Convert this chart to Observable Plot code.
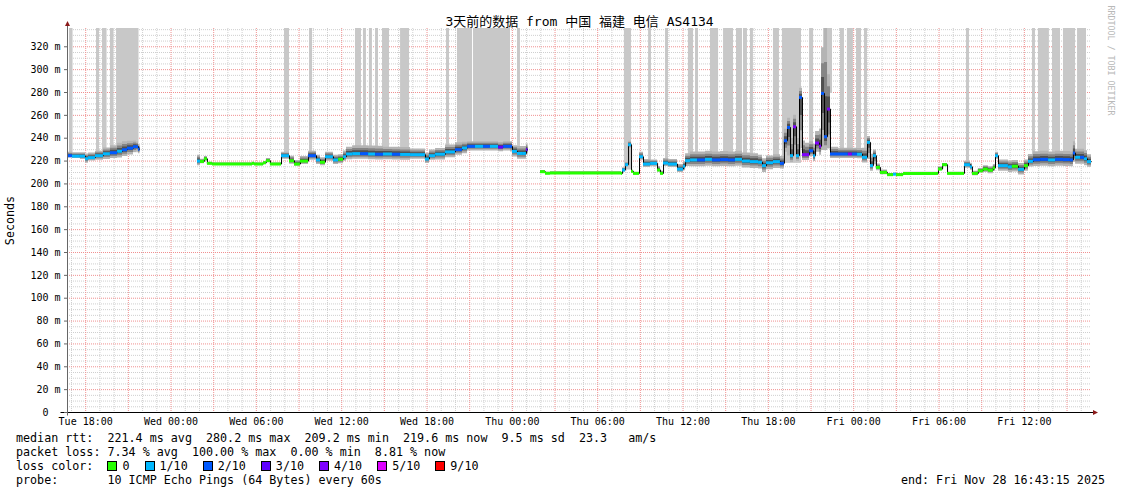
<!DOCTYPE html>
<html><head><meta charset="utf-8">
<script src="https://cdn.jsdelivr.net/npm/d3@7"></script>
<script src="https://cdn.jsdelivr.net/npm/@observablehq/plot@0.6"></script>
<style>
body{margin:0;background:#fff;width:1121px;height:494px;overflow:hidden;position:relative;font-family:'DejaVu Sans Mono',monospace;}
#chart{position:absolute;left:0;top:0;}
.leg{position:absolute;font-size:11.7px;line-height:14px;white-space:pre;color:#000;}
.box{display:inline-block;width:8px;height:8px;border:1px solid #000;vertical-align:-1px;margin-right:5px;}
.item{margin-right:15px;}
</style></head><body>
<div id="chart"></div>
<div class="leg" style="left:16px;top:431px">median rtt:  221.4 ms avg  280.2 ms max  209.2 ms min  219.6 ms now  9.5 ms sd  23.3   am/s</div>
<div class="leg" style="left:16px;top:445px">packet loss: 7.34 % avg  100.00 % max  0.00 % min  8.81 % now</div>
<div class="leg" id="losslegend" style="left:16px;top:459px">loss color:  </div>
<div class="leg" style="left:16px;top:473px">probe:       10 ICMP Echo Pings (64 Bytes) every 60s</div>
<div class="leg" style="right:16px;top:473px">end: Fri Nov 28 16:43:15 2025</div>
<script>
const titleText = "3天前的数据 from 中国 福建 电信 AS4134";
const yLabel = "Seconds";
const watermark = "RRDTOOL / TOBI OETIKER";

// loss legend
const lossLevels = [0, 1, 2, 3, 4, 5, 9];
const lossLabels = ["0", "1/10", "2/10", "3/10", "4/10", "5/10", "9/10"];
const lossColors = ["#26ff00", "#00b8ff", "#0059ff", "#5e00ff", "#7e00ff", "#dd00ff", "#ff0000"];

// time window
const startTime = Date.UTC(2025, 10, 25, 16, 43, 15);
const endTime = Date.UTC(2025, 10, 28, 16, 43, 15);
const baseTime = Date.UTC(2025, 10, 25, 18, 0, 0); // hours below are offsets from Tue 18:00

// median rtt series (hours since Tue 18:00, ms, loss tenths, smoke below/above ms)
const hours = [
 -1.28,-0.93,-0.37,-0.01,0.20,0.69,1.25,1.74,2.24,2.59,2.94,3.36,3.57,3.71,3.82,5.00,
 7.86,8.07,8.35,8.56,8.92,11.59,11.73,11.87,12.50,12.71,12.99,13.77,14.33,14.68,15.10,15.67,16.23,16.51,16.86,17.42,17.78,18.13,18.34,18.77,19.33,19.89,20.38,20.94,21.57,22.14,22.84,23.40,23.89,24.17,24.60,25.30,26.00,26.49,26.85,27.41,27.97,28.46,29.03,29.38,29.87,30.01,30.36,30.78,30.99,31.10,31.50,
 31.98,32.33,32.68,37.68,37.75,37.96,38.17,38.38,38.52,38.94,39.22,39.72,40.21,40.42,40.63,40.98,41.61,42.03,42.18,42.53,43.02,43.58,44.07,44.64,45.20,45.69,46.18,46.74,47.31,47.59,47.87,48.36,48.85,49.06,49.13,49.35,49.56,49.77,49.98,50.19,50.40,50.61,50.90,51.18,51.32,51.60,51.74,51.95,52.16,52.37,52.93,53.63,53.91,54.27,54.62,54.97,55.18,55.39,55.60,55.88,56.38,56.80,57.01,57.50,59.89,59.96,60.25,60.60,61.72,61.79,62.21,62.35,62.77,63.12,63.47,63.82,63.97,64.18,64.88,65.16,65.59,66.01,66.29,66.64,67.14,67.70,68.19,68.75,69.24,69.45,69.60,69.95,70.23,70.44,70.72
];
const rtt = [
 224.7,224.3,224.3,222.1,223.0,224.7,226.4,227.3,228.6,229.9,231.3,232.6,232.6,230.4,230.4,null,
 220.0,219.7,222.0,218.0,217.4,217.4,218.0,217.4,218.5,220.3,217.4,224.7,220.3,217.4,220.0,224.7,221.0,219.0,223.8,221.0,221.6,223.8,226.2,226.5,226.5,226.2,226.0,226.2,226.0,225.8,225.6,225.6,221.8,224.7,226.0,228.0,230.0,231.5,232.9,232.9,232.9,232.9,232.2,232.9,232.9,228.5,226.7,226.7,230.0,230.0,null,
 210.7,209.3,209.6,209.2,212.2,216.8,234.3,211.0,209.2,223.8,217.4,218.0,212.2,209.2,218.3,217.4,213.0,215.5,220.3,221.0,221.0,221.5,221.0,221.3,221.0,221.5,220.0,219.5,219.0,216.0,218.5,219.5,218.0,218.0,237.8,249.4,224.7,250.0,224.7,275.7,225.6,225.6,229.0,224.7,235.8,233.0,279.2,241.3,265.5,226.2,226.2,226.2,226.2,226.0,223.3,236.4,216.0,224.7,214.5,210.1,208.1,208.5,208.1,209.2,209.2,213.0,216.8,209.2,209.2,216.8,215.0,209.2,211.5,213.0,212.0,214.0,224.7,216.0,215.0,215.5,212.8,216.0,219.8,221.2,221.5,221.0,221.5,221.3,221.0,227.0,223.3,223.3,222.0,219.5,219.5
];
const loss = [
 2,1,1,1,1,1,1,2,1,2,2,2,2,2,2,0,
 1,0,0,0,0,0,0,0,0,0,0,1,0,0,0,2,1,0,1,1,0,1,1,1,2,1,2,1,2,1,1,1,1,1,1,1,2,1,2,1,2,1,3,2,2,1,1,1,3,3,0,
 0,0,0,0,1,1,1,0,0,1,1,1,0,0,1,1,1,1,1,1,2,1,2,2,2,1,1,1,1,1,1,1,2,2,2,2,1,4,1,2,4,4,2,1,4,4,2,2,4,2,2,4,2,1,1,1,1,1,0,0,0,1,0,0,0,0,0,0,0,1,1,0,0,0,0,0,1,1,1,0,1,0,1,2,2,1,2,2,2,2,1,2,1,1,1
];
const smokeLo = [
 2,2,3,4,3,4,5,5,6,6,6,5,4,4,4,0,
 4,2,2,1,1,1,1,1,1,1,1,3,3,2,3,4,4,3,4,4,4,4,5,5,5,5,5,5,5,5,4,4,4,4,5,5,5,5,4,4,4,4,4,4,5,5,5,5,5,5,0,
 1,1,1,1,2,2,3,1,1,3,3,3,2,1,3,3,3,4,5,6,6,6,6,6,6,6,6,6,6,6,6,6,5,5,10,25,6,25,5,45,5,5,5,5,8,8,50,12,35,4,4,4,4,4,5,15,5,8,3,2,1,1,1,1,1,1,1,1,1,3,3,2,2,3,3,3,3,5,5,5,5,5,5,6,6,6,6,6,6,8,6,6,6,5,5
];
const smokeHi = [
 3,3,3,4,4,4,5,6,7,7,6,5,4,4,4,0,
 5,2,2,1,1,1,1,1,1,2,1,3,4,3,4,4,4,4,4,4,4,5,6,7,7,7,7,6,6,6,5,5,5,5,5,6,6,5,4,4,4,4,4,4,4,5,6,6,5,5,0,
 1,1,1,1,2,2,3,1,1,4,4,3,3,2,4,4,4,4,6,7,7,7,7,7,7,7,7,7,6,6,6,6,6,6,10,8,15,10,15,8,12,10,8,10,10,15,40,100,30,6,5,5,5,5,8,5,10,5,3,2,1,1,1,1,1,2,1,1,1,3,3,2,2,3,3,3,3,5,5,5,5,5,6,7,7,7,7,7,7,10,7,7,7,6,6
];

// full-height loss bars (hours since Tue 18:00)
const barStart = [-1.14,0.76,1.18,1.74,2.17,13.98,15.74,18.97,19.53,19.95,20.38,20.87,22.14,25.37,26.14,27.27,30.36,37.88,39.58,40.77,42.38,42.88,43.93,44.85,45.76,46.25,46.74,48.36,48.99,50.90,51.88,53.07,53.56,54.20,54.76,61.93,66.57,66.99,67.98,68.75,69.74];
const barEnd   = [-0.89,0.97,1.50,1.99,3.75,14.33,15.95,19.39,19.74,20.16,20.59,21.36,22.77,25.58,27.20,29.87,30.57,38.38,39.78,40.98,42.74,43.09,44.50,45.55,46.18,46.53,46.95,48.78,50.33,51.18,52.51,53.35,53.98,54.55,54.97,62.14,66.78,67.76,68.54,69.60,70.37];

// y axis ticks
const yMax = 336;
const yMajor = d3.range(0, 321, 20);
const yMinor = d3.range(5, 336, 5).filter(v => v % 20 !== 0);

const toDate = h => new Date(baseTime + h * 3600e3);
const lossColor = l => lossColors[lossLevels.indexOf(l)];

const rows = hours.map((h, i) => ({t: toDate(h), rtt: rtt[i], loss: loss[i], lo: smokeLo[i], hi: smokeHi[i]}));
const segs = [];
for (let i = 0; i < rows.length - 1; i++) {
  if (rows[i].rtt != null && rows[i + 1].rtt != null)
    segs.push({t0: rows[i].t, t1: rows[i + 1].t, v: rows[i].rtt, loss: rows[i].loss});
}
const bis = d3.bisector(d => d.t).right;
const bars = barStart.map((s, i) => {
  const t0 = toDate(s), t1 = toDate(barEnd[i]);
  let k = Math.max(0, bis(rows, t0) - 1);
  while (rows[k].rtt == null && k < rows.length - 1) k++;
  return {t0, t1, bottom: rows[k].rtt};
});

const hourTicks = d3.utcHour.every(1).range(new Date(startTime), new Date(endTime));
const minorX = hourTicks.filter(d => d.getUTCHours() % 3 !== 0);
const majorX = hourTicks.filter(d => d.getUTCHours() % 3 === 0);
const labelX = hourTicks.filter(d => d.getUTCHours() % 6 === 0);

const band = f => d => d.rtt == null ? NaN : f(d);

function axesMark(index, scales, values, dims) {
  const {width, height, marginLeft, marginRight, marginTop, marginBottom} = dims;
  const x0 = marginLeft + 0.5, y0 = height - marginBottom + 0.5, xr = width - marginRight;
  const g = d3.create("svg:g");
  g.append("line").attr("x1", x0 - 7).attr("x2", xr + 2).attr("y1", y0).attr("y2", y0).attr("stroke", "#000");
  g.append("line").attr("x1", x0).attr("x2", x0).attr("y1", y0 + 3).attr("y2", marginTop - 2).attr("stroke", "#666");
  g.append("path").attr("d", `M${x0 - 2.5},${marginTop - 2}L${x0 + 2.5},${marginTop - 2}L${x0},${marginTop - 7}Z`).attr("fill", "#8b1a1a");
  g.append("path").attr("d", `M${xr + 2},${y0 - 2.5}L${xr + 2},${y0 + 2.5}L${xr + 7},${y0}Z`).attr("fill", "#8b1a1a");
  return g.node();
}

const mono = "'DejaVu Sans Mono', monospace";
const chart = Plot.plot({
  width: 1121, height: 430,
  marginLeft: 67, marginRight: 30, marginTop: 28, marginBottom: 18,
  x: {type: "utc", domain: [new Date(startTime), new Date(endTime)]},
  y: {domain: [0, yMax]},
  style: {fontFamily: mono, fontSize: "10px", background: "white", overflow: "visible", color: "#000"},
  marks: [
    Plot.ruleY(yMinor, {stroke: "#cfcfcf", strokeDasharray: "1,1"}),
    Plot.ruleX(minorX, {stroke: "#cfcfcf", strokeDasharray: "1,1"}),
    Plot.ruleY(yMajor.filter(v => v > 0), {stroke: "#f09090", strokeDasharray: "1,1"}),
    Plot.ruleX(majorX, {stroke: "#f09090", strokeDasharray: "1,1"}),
    Plot.rect(bars, {x1: "t0", x2: "t1", y1: "bottom", y2: () => yMax, fill: "#c8c8c8"}),
    Plot.areaY(rows, {x: "t", y1: band(d => d.rtt - d.lo), y2: band(d => d.rtt + d.hi), curve: "step-after", fill: "#b4b4b4", clip: true}),
    Plot.areaY(rows, {x: "t", y1: band(d => d.rtt - d.lo * 0.65), y2: band(d => d.rtt + d.hi * 0.65), curve: "step-after", fill: "#858585", clip: true}),
    Plot.areaY(rows, {x: "t", y1: band(d => d.rtt - d.lo * 0.35), y2: band(d => d.rtt + d.hi * 0.35), curve: "step-after", fill: "#505050", clip: true}),
    Plot.line(rows, {x: "t", y: "rtt", curve: "step-after", stroke: "#000", strokeWidth: 1}),
    Plot.ruleY(segs, {y: "v", x1: "t0", x2: "t1", stroke: d => lossColor(d.loss), strokeWidth: 3}),
    axesMark,
    Plot.axisY(yMajor, {tickSize: 3, tickPadding: 4, tickFormat: d => d === 0 ? "0\u00a0\u00a0" : `${d} m`, label: null, stroke: "#666"}),
    Plot.axisX(labelX, {tickSize: 0, tickPadding: 5, tickFormat: d3.utcFormat("%a %H:%M"), label: null}),
    Plot.text([titleText], {frameAnchor: "top", dy: -7, lineAnchor: "middle", textAnchor: "middle", fontSize: 13, fontFamily: "'DejaVu Sans Mono','Noto Sans CJK SC',monospace"}),
    Plot.text([yLabel], {frameAnchor: "left", dx: -57, rotate: -90, textAnchor: "middle", lineAnchor: "middle", fontSize: 11.7}),
    Plot.text([watermark], {frameAnchor: "top-right", dx: 19, dy: 32, rotate: 90, textAnchor: "middle", lineAnchor: "middle", fontSize: 8.3, fill: "#b8b8b8"})
  ]
});
document.getElementById("chart").append(chart);

// loss color legend
const ll = document.getElementById("losslegend");
lossLabels.forEach((lab, i) => {
  const b = document.createElement("span"); b.className = "box"; b.style.background = lossColors[i];
  const s = document.createElement("span"); s.className = "item"; s.textContent = lab;
  ll.append(b, s);
});
</script>
</body></html>
